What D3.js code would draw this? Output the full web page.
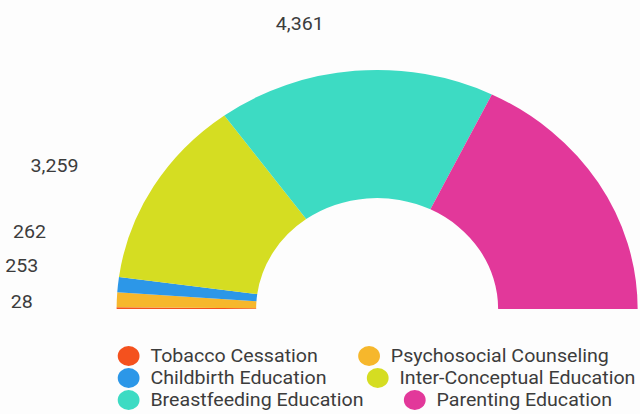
<!DOCTYPE html>
<html>
<head>
<meta charset="utf-8">
<script src="https://cdn.jsdelivr.net/npm/d3@7/dist/d3.min.js"></script>
<style>
  html, body { margin: 0; padding: 0; background: #fdfdfd; }
  svg { display: block; }
  text { font-family: Roboto, "Noto Sans", sans-serif; }
</style>
</head>
<body>
<svg id="chart" width="640" height="414"></svg>
<script>
// ---- data ----
const categories = ["Tobacco Cessation", "Psychosocial Counseling", "Childbirth Education",
                    "Inter-Conceptual Education", "Breastfeeding Education", "Parenting Education"];
const values = [28, 253, 262, 3259, 4361, 4490];
const colors = ["#F4511E", "#F6B72C", "#2C97E8", "#D5DD22", "#3DDBC3", "#E2389A"];
const valueLabels = ["28", "253", "262", "3,259", "4,361", "4,490"];

// ---- layout (not data) ----
const W = 640, H = 414;
const sx = 1.09;                 // horizontal stretch of the reference
const cx = 346, cy = 309;
const rOuter = 239, rInner = 111;
// label anchor centres (unstretched coords); the last slice's label lies outside the visible frame
const labelAnchors = [[20, 308], [20, 272], [27, 238], [50, 172], [275, 30], null];

const svg = d3.select("#chart");
svg.append("rect").attr("width", W).attr("height", H).attr("fill", "#fdfdfd");
const root = svg.append("g").attr("transform", `scale(${sx},1)`);

const data = categories.map((c, i) => ({ name: c, value: values[i], color: colors[i], label: valueLabels[i], anchor: labelAnchors[i] }));

const pie = d3.pie().value(d => d.value).sort(null)
  .startAngle(-Math.PI / 2).endAngle(Math.PI / 2);
const arc = d3.arc().innerRadius(rInner).outerRadius(rOuter);

const g = root.append("g").attr("transform", `translate(${cx},${cy})`);
g.selectAll("path").data(pie(data)).join("path")
  .attr("d", arc)
  .attr("fill", d => d.data.color);

// value labels
root.append("g").selectAll("text").data(data.filter(d => d.anchor)).join("text")
  .attr("x", d => d.anchor[0])
  .attr("y", d => d.anchor[1])
  .attr("text-anchor", "middle")
  .attr("font-size", 18)
  .attr("fill", "#3c3c3c")
  .text(d => d.label);

// legend: 3 rows x 2 columns, flowing
const legend = root.append("g");
const rowY = [356, 378, 400];
const gap = 47;
for (let r = 0; r < 3; r++) {
  let x = 118;
  for (let c = 0; c < 2; c++) {
    const d = data[r * 2 + c];
    const item = legend.append("g");
    item.append("circle").attr("cx", x).attr("cy", rowY[r]).attr("r", 10).attr("fill", d.color);
    const t = item.append("text")
      .attr("x", x + 20).attr("y", rowY[r] + 6)
      .attr("font-size", 18).attr("fill", "#3c3c3c")
      .text(d.name);
    const len = t.node().getComputedTextLength();
    x = x + 20 + len + gap;
  }
}
</script>
</body>
</html>
